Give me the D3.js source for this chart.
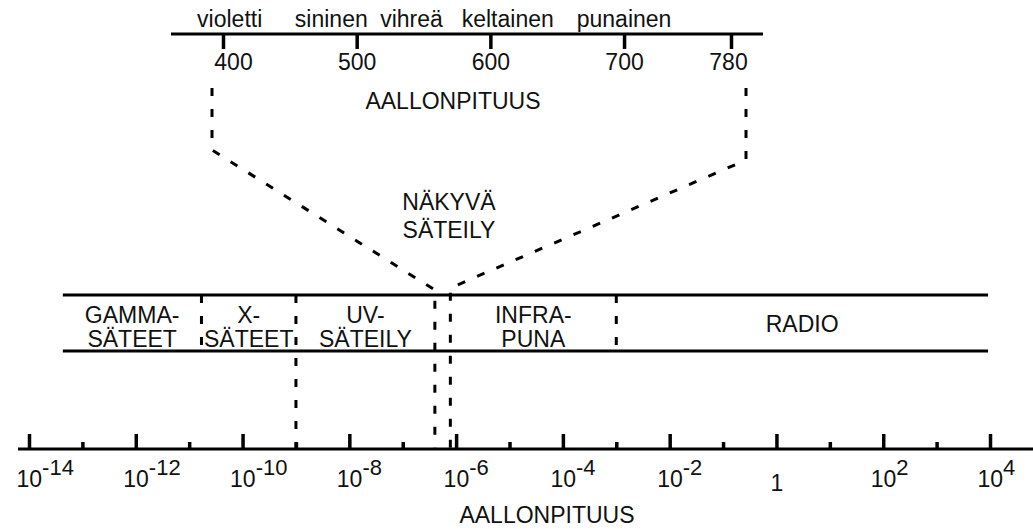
<!DOCTYPE html>
<html>
<head>
<meta charset="utf-8">
<script src="https://cdn.jsdelivr.net/npm/d3@7"></script>
<style>
  html, body { margin: 0; padding: 0; background: #fff; }
  svg { display: block; }
  text { font-family: "Liberation Sans", Arial, Helvetica, sans-serif; fill: #111; }
</style>
</head>
<body>
<svg id="chart" width="1033" height="529"></svg>
<script>
// ---- data ----
const majorTicks = [1e-14, 1e-12, 1e-10, 1e-8, 1e-6, 1e-4, 1e-2, 1, 1e2, 1e4];
const minorTicks = [1e-13, 1e-11, 1e-9, 1e-7, 1e-5, 1e-3, 1e-1, 1e1, 1e3];
const bandEdges = [4.3e-14, 1.7e-11, 1e-9, 4e-7, 7.8e-7, 1e-3, 9.2e3];
const bandLabels = [["GAMMA-", "SÄTEET"], ["X-", "SÄTEET"], ["UV-", "SÄTEILY"], [], ["INFRA-", "PUNA"], ["RADIO"]];
const edgesToAxis = [1e-9];
const visibleRange = [4e-7, 7.8e-7];
const visibleLabel = ["NÄKYVÄ", "SÄTEILY"];
const nmTicks = [400, 500, 600, 700, 780];
const colourNames = ["violetti", "sininen", "vihreä", "keltainen", "punainen"];
const colourNamePos = [405, 481, 541, 613, 700];
const axisTitle = "AALLONPITUUS";

// ---- layout ----
const svg = d3.select("#chart");
const FS = 23;
const axisY = 449, bandTop = 295, bandBot = 351, topAxisY = 34;
const x = d3.scaleLog().domain([1e-14, 1e4]).range([29, 990]);
const xt = d3.scaleLinear().domain([400, 780]).range([223, 731]);

// ---- bottom axis ----
svg.append("line").attr("x1", 18).attr("x2", 1033).attr("y1", axisY).attr("y2", axisY)
  .attr("stroke", "#000").attr("stroke-width", 3);

const gMaj = svg.append("g").attr("transform", `translate(0,${axisY})`)
  .call(d3.axisBottom(x).tickValues(majorTicks).tickSize(-15).tickPadding(0).tickFormat(""));
const gMin = svg.append("g").attr("transform", `translate(0,${axisY})`)
  .call(d3.axisBottom(x).tickValues(minorTicks).tickSize(-7).tickFormat(""));
[gMaj, gMin].forEach(g => {
  g.select(".domain").remove();
  g.selectAll(".tick line").attr("stroke", "#000").attr("stroke-width", 3.5);
  g.selectAll(".tick text").remove();
});
gMaj.selectAll(".tick").each(function(d) {
  const e = Math.round(Math.log10(d));
  const t = d3.select(this).append("text")
    .attr("y", 38).attr("font-size", FS);
  if (e === 0) {
    t.attr("text-anchor", "middle").attr("y", 42).text("1");
  } else {
    t.attr("x", -13).attr("text-anchor", "start");
    t.append("tspan").text("10");
    t.append("tspan").attr("dy", -12).attr("font-size", 22).text(e < 0 ? "-" + (-e) : String(e));
  }
});
svg.append("text").attr("x", 547).attr("y", 523).attr("text-anchor", "middle")
  .attr("font-size", FS).text(axisTitle);

// ---- band ----
const bx0 = x(bandEdges[0]), bx1 = x(bandEdges[bandEdges.length - 1]);
[bandTop, bandBot].forEach(yy => svg.append("line")
  .attr("x1", bx0).attr("x2", bx1).attr("y1", yy).attr("y2", yy)
  .attr("stroke", "#000").attr("stroke-width", 3.2));

const dash = "8,13";
bandEdges.slice(1, -1).forEach(v => {
  if (visibleRange.includes(v)) return;
  const y2 = edgesToAxis.includes(v) ? axisY : bandBot;
  svg.append("line").attr("x1", x(v)).attr("x2", x(v)).attr("y1", bandTop).attr("y2", y2)
    .attr("stroke", "#000").attr("stroke-width", 3).attr("stroke-dasharray", dash);
});

bandLabels.forEach((lines, i) => {
  if (!lines.length) return;
  const cx = (x(bandEdges[i]) + x(bandEdges[i + 1])) / 2;
  const mid = (bandTop + bandBot) / 2;
  const t = svg.append("text").attr("text-anchor", "middle").attr("font-size", FS);
  if (lines.length === 1) {
    t.attr("x", cx).attr("y", mid + 9).text(lines[0]);
  } else {
    lines.forEach((s, j) => t.append("tspan").attr("x", cx).attr("y", mid + 0 + j * 24).text(s));
  }
});

// ---- zoom-in connector for visible light ----
const line = d3.line();
const leftPath = [[xt(nmTicks[0]) - 11, 88], [xt(nmTicks[0]) - 11, 150], [x(visibleRange[0]), 290], [x(visibleRange[0]), axisY]];
const rightPath = [[xt(nmTicks[nmTicks.length - 1]) + 15, 88], [xt(nmTicks[nmTicks.length - 1]) + 15, 160], [x(visibleRange[1]), 288], [x(visibleRange[1]), axisY]];
[leftPath, rightPath].forEach(p => svg.append("path").attr("d", line(p))
  .attr("fill", "none").attr("stroke", "#000").attr("stroke-width", 3).attr("stroke-dasharray", dash));

const vl = svg.append("text").attr("text-anchor", "middle").attr("font-size", FS);
visibleLabel.forEach((s, j) => vl.append("tspan").attr("x", 449).attr("y", 210 + j * 28).text(s));

// ---- top axis (nm) ----
svg.append("line").attr("x1", 171).attr("x2", 763).attr("y1", topAxisY).attr("y2", topAxisY)
  .attr("stroke", "#000").attr("stroke-width", 3);
const gTop = svg.append("g").attr("transform", `translate(0,${topAxisY})`)
  .call(d3.axisBottom(xt).tickValues(nmTicks).tickSize(15).tickFormat(d3.format("d")));
gTop.select(".domain").remove();
gTop.selectAll(".tick line").attr("stroke", "#000").attr("stroke-width", 3.5);
gTop.selectAll(".tick text").attr("y", 36).attr("dy", 0).attr("font-size", FS)
  .attr("font-family", null).attr("fill", "#111")
  .attr("dx", (d, i) => i === 0 ? 10 : (i === nmTicks.length - 1 ? -3 : 0));

svg.selectAll(null).data(colourNames).join("text")
  .attr("x", (d, i) => xt(colourNamePos[i])).attr("y", 27)
  .attr("text-anchor", "middle").attr("font-size", FS).text(d => d);

svg.append("text").attr("x", 453).attr("y", 109).attr("text-anchor", "middle")
  .attr("font-size", FS).text(axisTitle);
</script>
</body>
</html>
